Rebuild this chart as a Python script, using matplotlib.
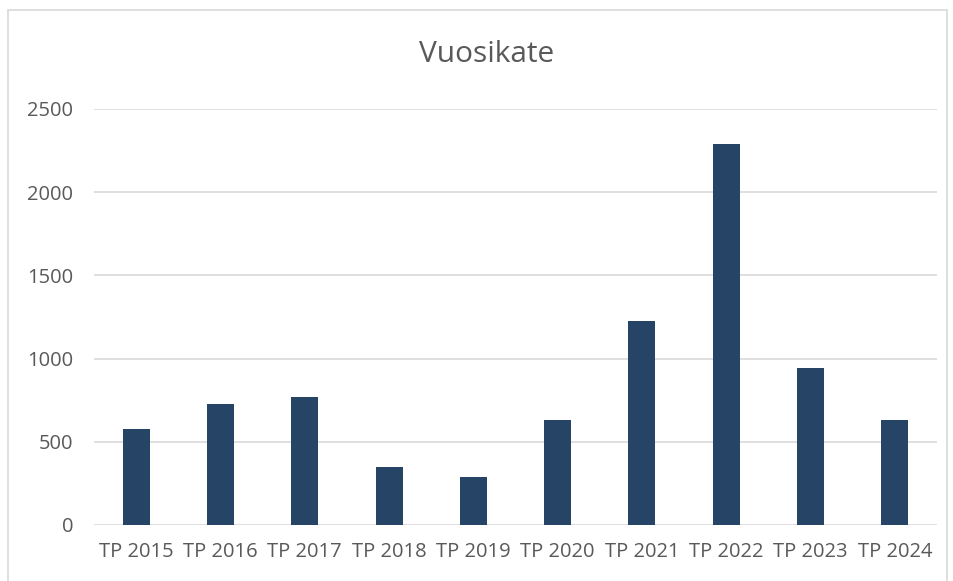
import matplotlib.pyplot as plt
from matplotlib.patches import Rectangle

# Vuosikate per year
categories = ['TP 2015', 'TP 2016', 'TP 2017', 'TP 2018', 'TP 2019',
              'TP 2020', 'TP 2021', 'TP 2022', 'TP 2023', 'TP 2024']
values = [574, 730, 768, 346, 290, 630, 1228, 2287, 944, 630]
yticks = [0, 500, 1000, 1500, 2000, 2500]

plt.rcParams['font.family'] = ['Open Sans', 'DejaVu Sans']

W, H = 954, 581
fig = plt.figure(figsize=(W / 100, H / 100), dpi=100)

# light chart frame
fig.patches.append(Rectangle((8 / W, -0.1), (947 - 8) / W, 1.1 - 10 / H,
                             transform=fig.transFigure, fill=False,
                             edgecolor='#d9d9d9', linewidth=1.2))

ax = fig.add_axes([94 / W, 1 - 525 / H, (937 - 94) / W, (525 - 109) / H])
x = range(len(categories))
ax.bar(x, values, width=0.32, color='#264466', zorder=3)

ax.set_xlim(-0.5, len(categories) - 0.5)
ax.set_ylim(0, 2500)
ax.set_yticks(yticks)
ax.set_xticks(list(x))
ax.set_xticklabels(categories)
ax.grid(axis='y', color='#d9d9d9', linewidth=1.2, zorder=0)
for s in ax.spines.values():
    s.set_visible(False)
ax.tick_params(length=0, labelsize=14.5, colors='#595959')
ax.tick_params(axis='y', pad=15)
ax.tick_params(axis='x', pad=12)

fig.text(487 / W, 1 - 55 / H, 'Vuosikate', ha='center', va='center',
         fontsize=21.5, color='#595959')

fig.savefig('out.png', dpi=100)
